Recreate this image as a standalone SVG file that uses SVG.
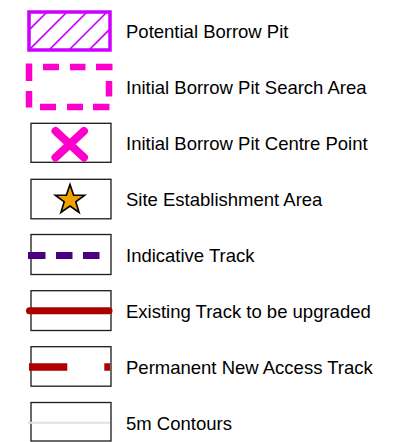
<svg xmlns="http://www.w3.org/2000/svg" width="411" height="442" viewBox="0 0 411 442">
<style>
  text { font-family: "Liberation Sans", Arial, sans-serif; font-size: 18.5px; fill: #000; }
  .box { fill: #fff; stroke: #1a1a1a; stroke-width: 1.3; }
</style>
<defs>
  <clipPath id="hatchClip"><rect x="29" y="12" width="81" height="38"/></clipPath>
</defs>
<rect width="411" height="442" fill="#fff"/>

<g id="potential-borrow-pit">
  <rect x="29" y="12" width="81" height="38" fill="#fff" stroke="#CC00FF" stroke-width="3.5"/>
  <g clip-path="url(#hatchClip)" stroke="#CC00FF" stroke-width="1.6">
    <line x1="9" y1="70" x2="69" y2="10"/>
    <line x1="29" y1="70" x2="89" y2="10"/>
    <line x1="49" y1="70" x2="109" y2="10"/>
    <line x1="69" y1="70" x2="129" y2="10"/>
    <line x1="89" y1="70" x2="149" y2="10"/>
    <line x1="109" y1="70" x2="169" y2="10"/>
    <line x1="-11" y1="70" x2="49" y2="10"/>
  </g>
  <text x="126" y="38">Potential Borrow Pit</text>
</g>

<g id="initial-borrow-pit-search-area">
  <path d="M29,63.5 V81 M29,91 V107.5 M25.7,67 H32 M43,67 H59 M70,67 H85.5 M96,67 H112.5 M109,81 V96.5 M40,107 H56 M67,107 H83 M93,107 H109.5" fill="none" stroke="#FF00CC" stroke-width="6.5"/>
  <text x="126" y="94">Initial Borrow Pit Search Area</text>
</g>

<g id="initial-borrow-pit-centre-point">
  <rect class="box" x="31" y="123.3" width="80" height="39"/>
  <path d="M55.5,131 L84,157.5 M84,131 L55.5,157.5" stroke="#FF00CC" stroke-width="8" stroke-linecap="round" fill="none"/>
  <text x="126" y="150">Initial Borrow Pit Centre Point</text>
</g>

<g id="site-establishment-area">
  <rect class="box" x="31" y="179.3" width="80" height="39.5"/>
  <polygon points="70,184.5 73.6,195.1 84.7,195.2 75.8,201.8 79.1,212.5 70,206 60.9,212.5 64.2,201.8 55.3,195.2 66.4,195.1" fill="#F0A000" stroke="#000" stroke-width="1.6" stroke-linejoin="miter"/>
  <text x="126" y="206">Site Establishment Area</text>
</g>

<g id="indicative-track">
  <rect class="box" x="31" y="234.5" width="80" height="40"/>
  <path d="M28,255.5 H45.5 M56,255.5 H72.5 M83,255.5 H99.5" stroke="#4B0082" stroke-width="7" fill="none"/>
  <text x="126" y="262">Indicative Track</text>
</g>

<g id="existing-track">
  <rect class="box" x="31" y="290.7" width="80" height="39.8"/>
  <line x1="29.5" y1="310.7" x2="109" y2="310.7" stroke="#AA0000" stroke-width="7" stroke-linecap="round"/>
  <text x="126" y="318">Existing Track to be upgraded</text>
</g>

<g id="permanent-new-access-track">
  <rect class="box" x="31" y="346.7" width="80" height="39.5"/>
  <path d="M29,367 H67.3 M104.3,367 H110" stroke="#B00000" stroke-width="7.5" fill="none"/>
  <text x="126" y="374">Permanent New Access Track</text>
</g>

<g id="contours">
  <rect class="box" x="31" y="402.5" width="80" height="38.5"/>
  <line x1="28" y1="422.7" x2="110" y2="422.7" stroke="#E0E0E0" stroke-width="2"/>
  <text x="126" y="430">5m Contours</text>
</g>
</svg>
